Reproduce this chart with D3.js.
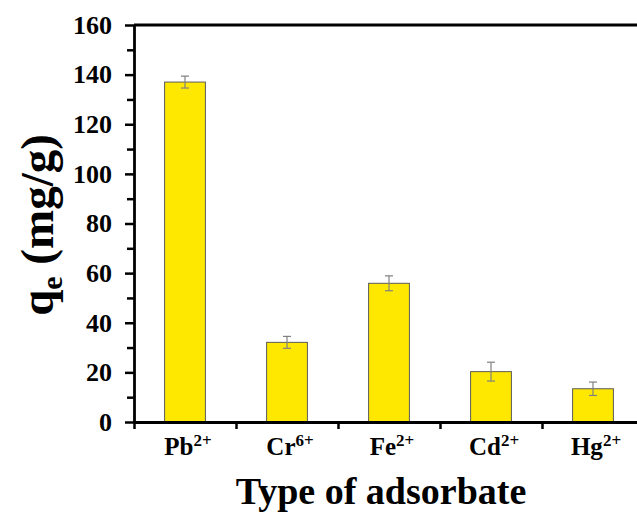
<!DOCTYPE html>
<html>
<head>
<meta charset="utf-8">
<script src="https://cdn.jsdelivr.net/npm/d3@7"></script>
<style>
  html, body { margin: 0; padding: 0; background: #fff; overflow: hidden; }
  svg { display: block; }
  svg text { font-family: "Liberation Serif", "Times New Roman", serif; font-weight: bold; fill: #000; }
</style>
</head>
<body>
<svg id="chart" width="637" height="512"></svg>
<script>
// Adsorption capacity per metal ion
const ions = ["Pb", "Cr", "Fe", "Cd", "Hg"];
const charges = ["2+", "6+", "2+", "2+", "2+"];
const qe = [137.0, 32.1, 55.9, 20.3, 13.4];
const qeErr = [2.4, 2.4, 3.0, 3.8, 2.7];
const yTicks = [0, 20, 40, 60, 80, 100, 120, 140, 160];
const yMinorTicks = [10, 30, 50, 70, 90, 110, 130, 150];

const svg = d3.select("#chart");
const plotLeft = 134, plotTop = 25, plotBottom = 422, bandW = 102;
const plotRight = plotLeft + bandW * ions.length;

const x = d3.scaleBand().domain(ions).range([plotLeft, plotRight]).paddingInner(0.6).paddingOuter(0.3);
const xEdge = d3.scaleLinear().domain([0, ions.length]).range([plotLeft, plotRight]);
const y = d3.scaleLinear().domain([0, 160]).range([plotBottom, plotTop]);

// bars
svg.append("g").selectAll("rect").data(ions).join("rect")
  .attr("x", d => x(d))
  .attr("width", x.bandwidth())
  .attr("y", (d, i) => y(qe[i]))
  .attr("height", (d, i) => y(0) - y(qe[i]))
  .attr("fill", "#FFE800")
  .attr("stroke", "#5a5a5a")
  .attr("stroke-width", 1);

// error bars
const eb = svg.append("g").attr("stroke", "#808080").attr("stroke-width", 1.2);
ions.forEach((d, i) => {
  const cx = x(d) + x.bandwidth() / 2;
  const y1 = y(qe[i] + qeErr[i]), y2 = y(qe[i] - qeErr[i]);
  eb.append("line").attr("x1", cx).attr("x2", cx).attr("y1", y1).attr("y2", y2);
  eb.append("line").attr("x1", cx - 4).attr("x2", cx + 4).attr("y1", y1).attr("y2", y1);
  eb.append("line").attr("x1", cx - 4).attr("x2", cx + 4).attr("y1", y2).attr("y2", y2);
});

// y axis: minor ticks, then major ticks with labels
const yMinor = svg.append("g").attr("transform", `translate(${plotLeft},0)`)
  .call(d3.axisLeft(y).tickValues(yMinorTicks).tickSize(7).tickFormat(""));
yMinor.select(".domain").remove();
yMinor.selectAll("line").attr("stroke", "#000").attr("stroke-width", 2.5);

const yAxis = svg.append("g").attr("transform", `translate(${plotLeft},0)`)
  .call(d3.axisLeft(y).tickValues(yTicks).tickSize(9).tickSizeOuter(0).tickPadding(13));
yAxis.attr("font-family", null).attr("font-size", null);
yAxis.select(".domain").attr("stroke", "#000").attr("stroke-width", 2.8);
yAxis.selectAll("line").attr("stroke", "#000").attr("stroke-width", 2.5);
yAxis.selectAll("text").style("font-size", "26px");

// x axis: ticks on category boundaries
const xAxis = svg.append("g").attr("transform", `translate(0,${plotBottom})`)
  .call(d3.axisBottom(xEdge).tickValues(d3.range(ions.length + 1)).tickSize(7).tickSizeOuter(0).tickFormat(""));
xAxis.select(".domain").attr("stroke", "#000").attr("stroke-width", 2.8);
xAxis.selectAll("line").attr("stroke", "#000").attr("stroke-width", 2.5);

// top frame line
svg.append("line").attr("x1", plotLeft).attr("x2", plotRight).attr("y1", plotTop).attr("y2", plotTop)
  .attr("stroke", "#000").attr("stroke-width", 2.8);

// category labels with superscript charges
const lab = svg.append("g");
ions.forEach((d, i) => {
  const t = lab.append("text")
    .attr("x", x(d) + x.bandwidth() / 2 + 3).attr("y", 455)
    .attr("text-anchor", "middle").style("font-size", "25px");
  t.append("tspan").text(d);
  t.append("tspan").style("font-size", "17px").attr("dy", -9).text(charges[i]);
});

// axis titles
svg.append("text")
  .attr("x", 381).attr("y", 504)
  .attr("text-anchor", "middle").style("font-size", "38px")
  .text("Type of adsorbate");

const yt = svg.append("text")
  .attr("transform", "translate(53,225) rotate(-90)")
  .attr("text-anchor", "middle").style("font-size", "47px");
yt.append("tspan").text("q");
yt.append("tspan").style("font-size", "30px").attr("dy", 9).text("e");
yt.append("tspan").attr("dy", -9).text(" (mg/g)");
</script>
</body>
</html>
